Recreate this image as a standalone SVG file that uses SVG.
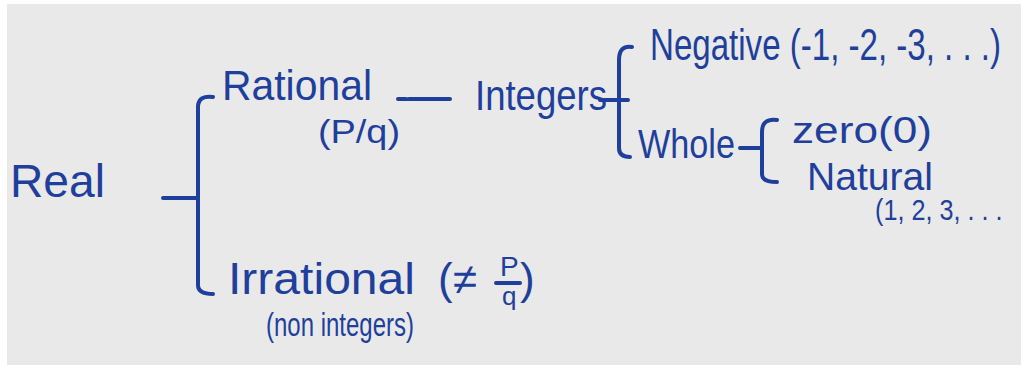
<svg xmlns="http://www.w3.org/2000/svg" width="1021" height="365" viewBox="0 0 1021 365">
<style>
.t{font-family:"Liberation Sans","DejaVu Sans",sans-serif;fill:#1f3f9c}
.c{fill:none;stroke:#1f3f9c;stroke-width:4;stroke-linecap:round;stroke-linejoin:round}
</style>
<rect x="0" y="0" width="1021" height="365" fill="#ffffff"/>
<rect x="7" y="4" width="1014" height="361" fill="#e9e9e9"/>
<g id="connectors">
<path class="c" d="M163,198 L198,198"/>
<path class="c" d="M213,97 Q199,95 198,106 L198,285 Q198,294 213,294"/>
<path class="c" d="M398,99 L406,99 M409,99 L450,99"/>
<path class="c" d="M600,100 L628,100"/>
<path class="c" d="M632,47 Q619,45 619,60 L619,148 Q619,157 630,157"/>
<path class="c" d="M740,148 L760,148"/>
<path class="c" d="M777,120 Q762,118 762,132 L762,174 Q762,182 777,182"/>
</g>
<g id="real"><text class="t" x="10" y="197" font-size="46" textLength="95" lengthAdjust="spacingAndGlyphs">Real</text></g>
<g id="rational">
<text class="t" x="222" y="100" font-size="42" textLength="150" lengthAdjust="spacingAndGlyphs">Rational</text>
<text class="t" x="318" y="143" font-size="34" textLength="82" lengthAdjust="spacingAndGlyphs">(P/q)</text>
</g>
<g id="integers"><text class="t" x="475" y="110" font-size="42" textLength="132" lengthAdjust="spacingAndGlyphs">Integers</text></g>
<g id="negative"><text class="t" transform="translate(650,60) scale(0.735,1)" x="0" y="0" font-size="45">Negative (-1, -2, -3, . . .)</text></g>
<g id="whole"><text class="t" x="638" y="158" font-size="40" textLength="97" lengthAdjust="spacingAndGlyphs">Whole</text></g>
<g id="zero"><text class="t" x="792" y="143" font-size="36" textLength="140" lengthAdjust="spacingAndGlyphs">zero(0)</text></g>
<g id="natural">
<text class="t" x="807" y="190" font-size="38" textLength="126" lengthAdjust="spacingAndGlyphs">Natural</text>
<text class="t" transform="translate(875,220) scale(0.84,1)" x="0" y="0" font-size="30">(1, 2, 3, . . .</text>
</g>
<g id="irrational">
<text class="t" x="228" y="294" font-size="44" textLength="187" lengthAdjust="spacingAndGlyphs">Irrational</text>
<text class="t" x="438" y="294" font-size="44">(≠</text>
<text class="t" x="500" y="276" font-size="28">P</text>
<path class="c" d="M496,283 L520,283" stroke-width="3"/>
<text class="t" x="502" y="305" font-size="26">q</text>
<text class="t" x="520" y="294" font-size="44">)</text>
<text class="t" x="266" y="336" font-size="33" textLength="148" lengthAdjust="spacingAndGlyphs">(non integers)</text>
</g>
</svg>
